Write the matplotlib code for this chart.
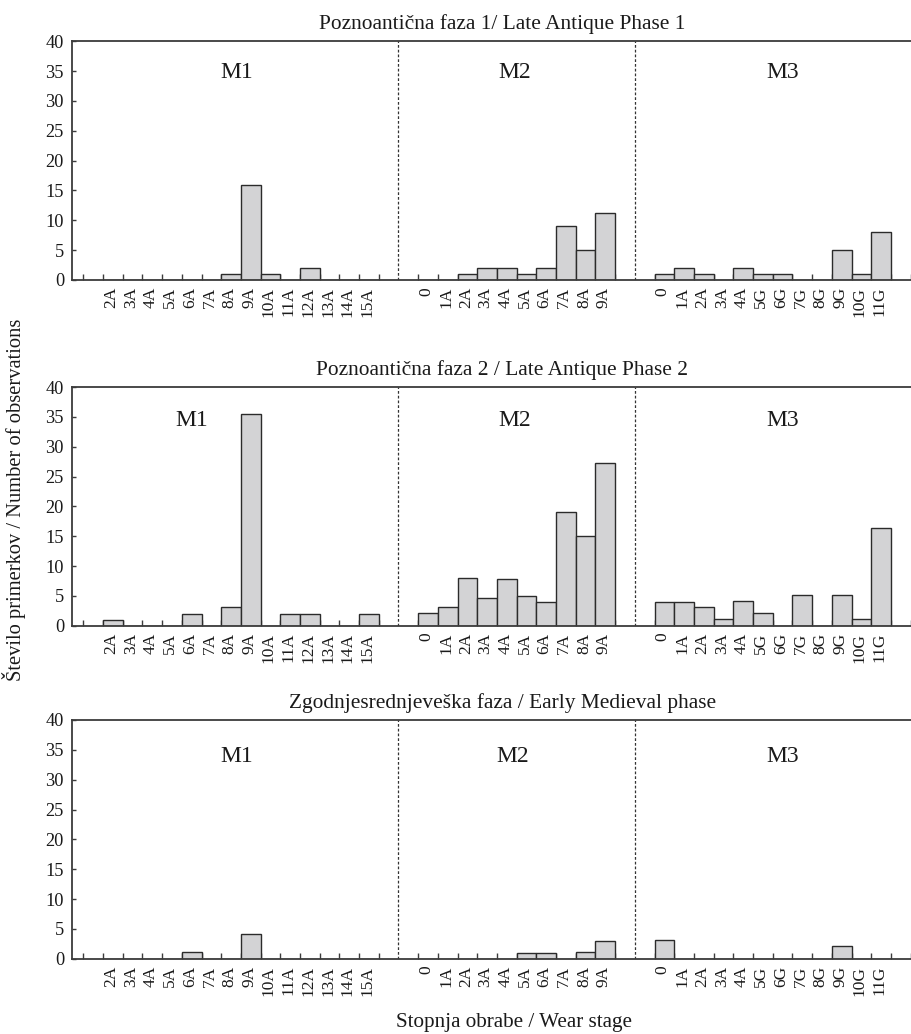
import matplotlib
matplotlib.use("Agg")
import matplotlib.pyplot as plt
import numpy as np

# categories per molar
m1_stages = ["2A", "3A", "4A", "5A", "6A", "7A", "8A", "9A", "10A", "11A",
             "12A", "13A", "14A", "15A"]
m2_stages = ["0", "1A", "2A", "3A", "4A", "5A", "6A", "7A", "8A", "9A"]
m3_stages = ["0", "1A", "2A", "3A", "4A", "5G", "6G", "7G", "8G", "9G",
             "10G", "11G"]

phase_titles = ["Poznoantična faza 1/ Late Antique Phase 1",
                "Poznoantična faza 2 / Late Antique Phase 2",
                "Zgodnjesrednjeveška faza / Early Medieval phase"]

# Late Antique phase 1
p1_m1 = [0, 0, 0, 0, 0, 0, 1, 16, 1, 0, 2, 0, 0, 0]
p1_m2 = [0, 0, 1, 2, 2, 1, 2, 9, 5, 11.2]
p1_m3 = [1, 2, 1, 0, 2, 1, 1, 0, 0, 5, 1, 8.1]
# Late Antique phase 2
p2_m1 = [1, 0, 0, 0, 2, 0, 3.1, 35.4, 0, 2, 2, 0, 0, 2]
p2_m2 = [2.1, 3.1, 8, 4.7, 7.8, 4.9, 3.9, 19.1, 15.1, 27.3]
p2_m3 = [4, 4, 3.1, 1.1, 4.1, 2.1, 0, 5.1, 0, 5.2, 1.1, 16.3]
# Early Medieval phase
p3_m1 = [0, 0, 0, 0, 1.1, 0, 0, 4.2, 0, 0, 0, 0, 0, 0]
p3_m2 = [0, 0, 0, 0, 0, 1, 1, 0, 1.1, 3]
p3_m3 = [3.2, 0, 0, 0, 0, 0, 0, 0, 0, 2.2, 0, 0]

data = [[p1_m1, p1_m2, p1_m3],
        [p2_m1, p2_m2, p2_m3],
        [p3_m1, p3_m2, p3_m3]]

# first slot index of each molar group on a common x axis
group_start = [1, 17, 29]
group_sep = [16, 28]
group_names = ["M1", "M2", "M3"]
stages = [m1_stages, m2_stages, m3_stages]

# label positions (x in slot units, y in data units) for each panel
name_x = [[7.8, 21.9, 35.5], [5.5, 21.9, 35.5], [7.8, 21.8, 35.5]]
name_y = [33.8, 33.5, 33.0]

plt.rcParams['font.family'] = ['Liberation Serif', 'DejaVu Serif']
txt_col = "#1a1a1a"
spine_col = "#3c3c3c"
bar_face = "#d3d3d5"
bar_edge = "#2b2b2b"

W, H = 911, 1034
fig = plt.figure(figsize=(W / 100, H / 100), dpi=100)

ax_left = 71.7 / W
ax_width = 1 - ax_left
ax_h = 238.7 / H
ax_bottoms = [(H - 280) / H, (H - 625.7) / H, (H - 958.7) / H]
title_base = [29.3, 375, 708.3]

centers_all = []
labels_all = []
for g, st in enumerate(stages):
    centers_all += [group_start[g] + i + 0.5 for i in range(len(st))]
    labels_all += st

for p in range(3):
    ax = fig.add_axes([ax_left, ax_bottoms[p], ax_width, ax_h])
    for g in range(3):
        vals = data[p][g]
        xs = np.arange(len(vals)) + group_start[g] + 0.5
        ax.bar(xs, vals, width=1.0, color=bar_face, edgecolor=bar_edge,
               linewidth=1.0, zorder=2)
        ax.text(name_x[p][g], name_y[p], group_names[g], fontsize=17,
                ha="center", va="baseline", color=txt_col)
    for s in group_sep:
        ax.axvline(s, color="#333333", linewidth=0.9,
                   linestyle=(0, (2.2, 1.6)), zorder=1)

    ax.set_xlim(-0.59, 42.02)
    ax.set_ylim(0, 40)
    ax.set_yticks(np.arange(0, 41, 5))
    ax.set_xticks([e for e in range(0, 43) if e not in group_sep])
    ax.set_xticklabels([])
    ax.set_xticks(np.array(centers_all) - 0.08, minor=True)
    ax.set_xticklabels(labels_all, minor=True, rotation=90, fontsize=12.5,
                       color=txt_col)
    ax.tick_params(axis="x", which="major", direction="in", length=4,
                   width=1, color=spine_col)
    ax.tick_params(axis="x", which="minor", length=0, pad=5)
    ax.tick_params(axis="y", direction="in", length=3, width=1,
                   color=spine_col, labelsize=13.2, labelcolor=txt_col,
                   pad=5.5)
    ax.spines["right"].set_visible(False)
    for sp in ["left", "bottom", "top"]:
        ax.spines[sp].set_color(spine_col)
        ax.spines[sp].set_linewidth(1.3)

    fig.text(502.5 / W, 1 - title_base[p] / H, phase_titles[p], fontsize=15.4,
             ha="center", va="baseline", color=txt_col)

fig.text(14 / W, 1 - 500 / H, "Število primerkov / Number of observations",
         rotation=90, ha="center", va="center", fontsize=14.8, color=txt_col)
fig.text(514 / W, 1 - 1023 / H, "Stopnja obrabe / Wear stage",
         ha="center", va="center", fontsize=15.2, color=txt_col)

fig.savefig("out.png", dpi=100)
